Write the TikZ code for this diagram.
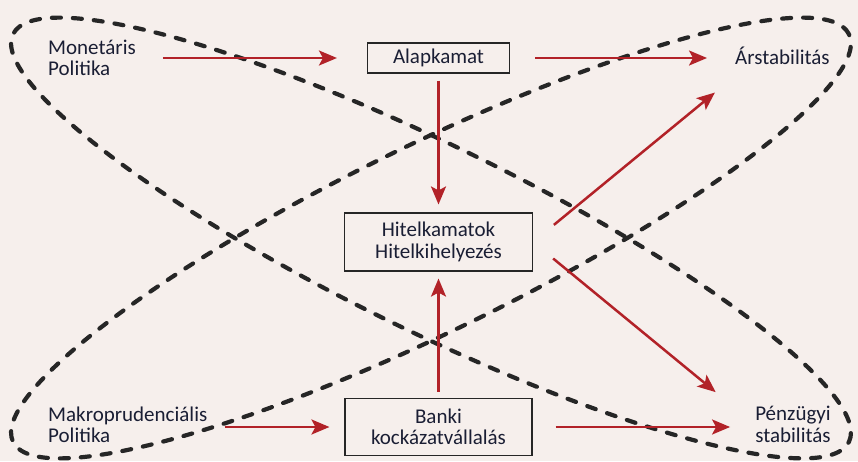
\documentclass[tikz,border=0pt]{standalone}
\usepackage{fontspec}
\setmainfont{Carlito}
\usetikzlibrary{arrows.meta, positioning, calc}
\definecolor{bgrose}{RGB}{246, 239, 236}
\definecolor{arrred}{RGB}{178, 34, 40}
\definecolor{inknavy}{RGB}{26, 30, 52}

\begin{document}
\begin{tikzpicture}[
  x=1pt, y=-1pt,
  font=\fontsize{21}{21.5}\selectfont,
  box/.style={rectangle, draw=black!85, line width=1.1pt, fill=bgrose,
              text=inknavy, align=center, inner sep=0pt},
  lbl/.style={text=inknavy, inner sep=0pt},
  arr/.style={-{Stealth[length=18pt, width=15pt, inset=4pt]}, line width=2.5pt, arrred},
  ring/.style={black!85, line width=4.2pt, dash pattern=on 9pt off 12pt, line cap=round}
]
  \fill[bgrose] (0,0) rectangle (858,461);
  \useasboundingbox (0,0) rectangle (858,461);

  \coordinate (mid) at (431,238);
  \draw[ring, rotate around={-26:(mid)}] (mid) ellipse [x radius=465pt, y radius=93pt];
  \draw[ring, rotate around={26:(mid)}] (mid) ellipse [x radius=465pt, y radius=93pt];

  \node[lbl, align=left, anchor=west] (mon) at (48,58) {Monetáris\\Politika};
  \node[box, minimum width=142pt, minimum height=30pt] (alap) at (438.5,58) {Alapkamat};
  \node[lbl, anchor=west, inner ysep=11pt] (ar) at (735,56) {Árstabilitás};
  \node[box, minimum width=188pt, minimum height=58pt] (hitel) at (438.5,242) {Hitelkamatok\\Hitelkihelyezés};
  \node[box, minimum width=187pt, minimum height=57pt] (banki) at (438.5,427) {Banki\\kockázatvállalás};
  \node[lbl, align=left, anchor=west] (makro) at (48,425) {Makroprudenciális\\Politika};
  \node[lbl, align=center] (penz) at (793,424.5) {Pénzügyi\\stabilitás};

  \draw[arr, shorten <=27pt, shorten >=30pt] (mon.east) -- (alap.west);
  \draw[arr, shorten <=25pt, shorten >=28pt] (alap.east) -- (alap.east -| ar.west);
  \draw[arr, shorten <=7pt, shorten >=8pt] (alap.south) -- (hitel.north);
  \draw[arr, shorten <=6pt, shorten >=7pt] (banki.north) -- (hitel.south);
  \draw[arr, shorten <=27pt, shorten >=26pt] (hitel.east) -- (ar.south west);
  \draw[arr, shorten <=26pt, shorten >=51pt] (hitel.east) -- (penz.west);
  \draw[arr, shorten <=17pt, shorten >=15pt] (makro.east |- banki.west) -- (banki.west);
  \draw[arr, shorten <=23pt, shorten >=25pt] (banki.east) -- (banki.east -| penz.west);
\end{tikzpicture}
\end{document}
